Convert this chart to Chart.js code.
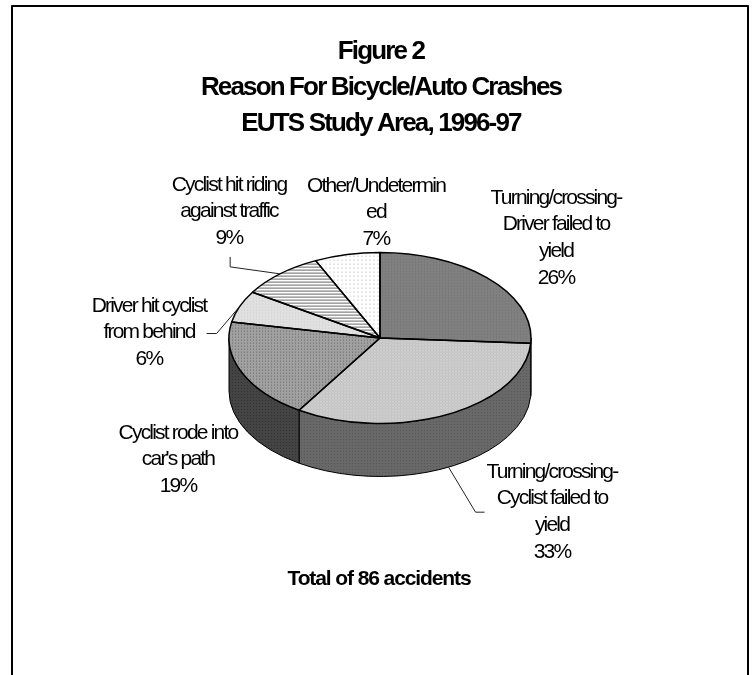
<!DOCTYPE html>
<html>
<head>
<meta charset="utf-8">
<title>Figure 2</title>
<script src="https://cdn.jsdelivr.net/npm/chart.js@4"></script>
<style>
  html, body { margin: 0; padding: 0; background: #fff; overflow: hidden; }
  canvas { display: block; }
</style>
</head>
<body>
<canvas id="crashChart" width="752" height="675"></canvas>
<script>
// Crash reasons, share of all accidents in percent
const reasons = [
    ['Turning/crossing-', 'Driver failed to', 'yield'],
    ['Turning/crossing-', 'Cyclist failed to', 'yield'],
    ['Cyclist rode into', "car's path"],
    ['Driver hit cyclist', 'from behind'],
    ['Cyclist hit riding', 'against traffic'],
    ['Other/Undetermin', 'ed']
];
const shares = [26, 33, 19, 6, 9, 7];

const titleLines = ['Figure 2', 'Reason For Bicycle/Auto Crashes', 'EUTS Study Area, 1996-97'];
const footnote = 'Total of 86 accidents';

// Where each label block is centred: x, and y of its first line
const labelCentres = [[556, 198], [552, 472], [178, 433], [149, 306], [229, 185], [376, 186]];

// Leader line bends, relative to the point on the pie rim (null = no leader)
const leaderBends = [
    null,
    [[27, 45], [36, 45]],
    null,
    [[-23, 27], [-33, 27]],
    [[-50, -7], [-50, -17]],
    null
];

const squash = 85.5 / 151;   // vertical flattening of the disc
const wallDepth = 53;

// Small repeating fill, rows of grey values per pixel
function makeTile(rows) {
    const tile = document.createElement('canvas');
    tile.height = rows.length;
    tile.width = rows[0].length;
    const tctx = tile.getContext('2d');
    rows.forEach((row, y) => row.forEach((v, x) => {
        tctx.fillStyle = `rgb(${v},${v},${v})`;
        tctx.fillRect(x, y, 1, 1);
    }));
    return tile;
}

const canvas = document.getElementById('crashChart');
const ctx = canvas.getContext('2d');

function makePattern(rows, flattened) {
    const p = ctx.createPattern(makeTile(rows), 'repeat');
    if (flattened) p.setTransform(new DOMMatrix().scale(1, 1 / squash));
    return p;
}

const topTiles = [
    [[128, 128, 128], [128, 112, 128], [128, 128, 128]],
    [[208, 192, 208], [192, 208, 192], [208, 192, 208]],
    [[160, 160, 160], [160, 104, 160], [160, 160, 160]],
    [[224, 224, 224], [224, 208, 224], [224, 224, 224]],
    [[105], [255], [250]],
    [[255, 255, 255, 255], [255, 215, 215, 255], [255, 255, 255, 255], [255, 255, 255, 255]]
];
const wallTiles = [
    [[88, 88, 88], [88, 72, 88], [88, 88, 88]],
    [[104, 104, 104], [104, 88, 104], [104, 104, 104]],
    [[68, 68, 68], [68, 50, 68], [68, 68, 68]]
];
const topFills = topTiles.map(t => makePattern(t, true));
const wallFills = wallTiles.map(t => makePattern(t, false));

function flatten(c, cx, cy) {
    c.translate(cx, cy);
    c.scale(1, squash);
    c.translate(-cx, -cy);
}

// Draws the side of the disc and flattens the arcs the library paints on top
const discPlugin = {
    id: 'disc',
    beforeDatasetsDraw(chart) {
        const c = chart.ctx;
        const arcs = chart.getDatasetMeta(0).data;
        const { x: cx, y: cy, outerRadius: rx } = arcs[0];
        const ry = rx * squash;
        c.save();
        arcs.forEach((arc, i) => {
            const a = Math.max(arc.startAngle, 0);
            const b = Math.min(arc.endAngle, Math.PI);
            if (b <= a) return;
            c.beginPath();
            c.ellipse(cx, cy, rx, ry, 0, a, b);
            c.ellipse(cx, cy + wallDepth, rx, ry, 0, b, a, true);
            c.closePath();
            c.fillStyle = wallFills[i];
            c.fill();
            c.strokeStyle = '#000';
            c.lineWidth = 1;
            c.stroke();
        });
        c.restore();
        c.save();
        flatten(c, cx, cy);
    },
    afterDatasetsDraw(chart) {
        const c = chart.ctx;
        c.restore();
        chart.getDatasetMeta(0).data.forEach(arc => {
            c.save();
            flatten(c, arc.x, arc.y);
            c.beginPath();
            c.moveTo(arc.x, arc.y);
            c.arc(arc.x, arc.y, arc.outerRadius, arc.startAngle, arc.endAngle);
            c.closePath();
            c.restore();
            c.strokeStyle = '#000';
            c.lineWidth = 1.5;
            c.lineJoin = 'round';
            c.stroke();
        });
    }
};

function drawLines(c, lines, x, y, lineHeight) {
    lines.forEach((line, i) => c.fillText(line, x, y + i * lineHeight));
}

// Frame, title, leaders and the slice labels
const textPlugin = {
    id: 'texts',
    afterDraw(chart) {
        const c = chart.ctx;
        const arcs = chart.getDatasetMeta(0).data;
        c.save();

        c.strokeStyle = '#000';
        c.lineWidth = 2;
        c.strokeRect(12, 6, 736, 700);

        c.strokeStyle = '#222';
        c.lineWidth = 1;
        leaderBends.forEach((bends, i) => {
            if (!bends) return;
            const arc = arcs[i];
            const mid = (arc.startAngle + arc.endAngle) / 2;
            const sx = arc.x + arc.outerRadius * Math.cos(mid);
            let sy = arc.y + arc.outerRadius * squash * Math.sin(mid);
            if (Math.sin(mid) > 0) sy += wallDepth;
            c.beginPath();
            c.moveTo(sx, sy);
            bends.forEach(b => c.lineTo(sx + b[0], sy + b[1]));
            c.stroke();
        });

        c.fillStyle = '#000';
        c.textAlign = 'center';
        c.textBaseline = 'middle';

        c.font = 'bold 26px "Liberation Sans"';
        c.letterSpacing = '-1.85px';
        drawLines(c, titleLines, 381, 52, 36);

        c.font = '21px "Liberation Sans"';
        c.letterSpacing = '-1.8px';
        reasons.forEach((lines, i) => {
            const [x, y] = labelCentres[i];
            drawLines(c, lines.concat(shares[i] + '%'), x, y, 26.6);
        });

        c.font = 'bold 21px "Liberation Sans"';
        c.letterSpacing = '-1.1px';
        c.fillText(footnote, 379, 579);
        c.restore();
    }
};

new Chart(ctx, {
    type: 'pie',
    data: {
        labels: reasons.map(r => r.join(' ')),
        datasets: [{
            data: shares,
            backgroundColor: topFills,
            borderWidth: 0,
            hoverOffset: 0
        }]
    },
    options: {
        responsive: false,
        animation: false,
        layout: { padding: { left: 229, right: 221, top: 187, bottom: 186 } },
        plugins: {
            legend: { display: false },
            tooltip: { enabled: false }
        }
    },
    plugins: [discPlugin, textPlugin]
});
</script>
</body>
</html>
